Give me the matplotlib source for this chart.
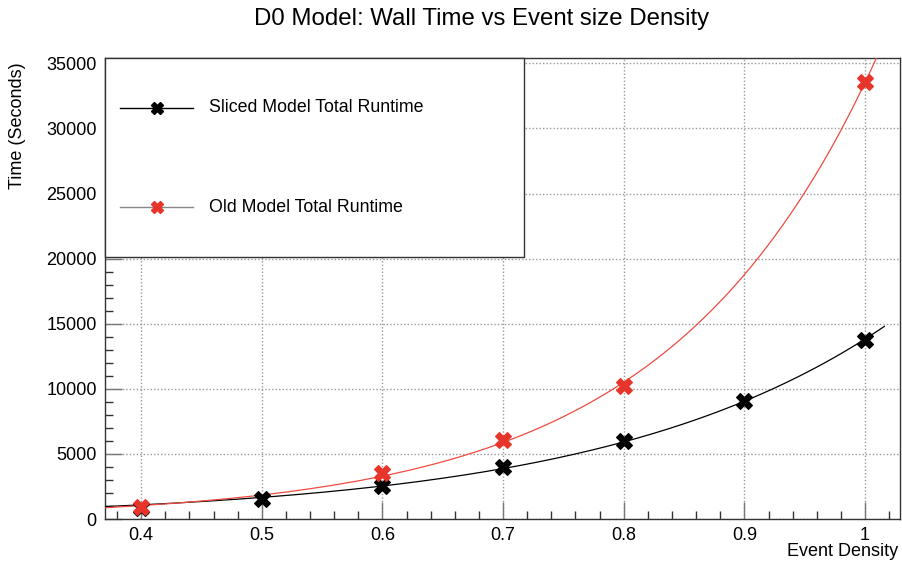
import numpy as np
import matplotlib
matplotlib.use("Agg")
import matplotlib.pyplot as plt
from matplotlib.lines import Line2D
from matplotlib.patches import Rectangle
from matplotlib.ticker import MultipleLocator

plt.rcParams['font.family'] = ['Liberation Sans', 'DejaVu Sans']

# Measured wall times (seconds) per event density
sliced_density = [0.4, 0.5, 0.6, 0.7, 0.8, 0.9, 1.0]
sliced_time = [830, 1530, 2550, 3980, 6000, 9100, 13760]

old_density = [0.4, 0.6, 0.7, 0.8, 1.0]
old_time = [890, 3540, 6080, 10230, 33560]

x_ticks = [0.4, 0.5, 0.6, 0.7, 0.8, 0.9, 1.0]
x_tick_labels = ["0.4", "0.5", "0.6", "0.7", "0.8", "0.9", "1"]
y_ticks = [0, 5000, 10000, 15000, 20000, 25000, 30000, 35000]

legend_labels = ["Sliced Model Total Runtime", "Old Model Total Runtime"]

BLACK = "#000000"
RED = "#e8352b"
RED_LINE = "#ee4b42"

W, H = 902, 565


def fit_expo(x, y, iters=50):
    """Least-squares fit of y = exp(a + b*x) (Gauss-Newton)."""
    x = np.asarray(x, float)
    y = np.asarray(y, float)
    b, a = np.polyfit(x, np.log(y), 1)
    for _ in range(iters):
        f = np.exp(a + b * x)
        J = np.column_stack([f, f * x])
        r = y - f
        step, *_ = np.linalg.lstsq(J, r, rcond=None)
        a += step[0]
        b += step[1]
        if np.all(np.abs(step) < 1e-12):
            break
    return a, b


def px(x, y):
    """Pixel position (from top-left) to figure fraction."""
    return x / W, 1 - y / H


fig = plt.figure(figsize=(W / 100, H / 100), dpi=100)
ax = fig.add_axes([0.1164, 0.0814, 0.8814, 0.8168])

ax.set_xlim(0.37, 1.029)
ax.set_ylim(0, 35450)

# Exponential fit curves
a_s, b_s = fit_expo(sliced_density, sliced_time)
xs = np.linspace(0.37, 1.016, 300)
ax.plot(xs, np.exp(a_s + b_s * xs), color=BLACK, lw=0.9, zorder=3)

a_o, b_o = fit_expo(old_density, old_time)
xo = np.linspace(0.37, 1.029, 300)
ax.plot(xo, np.exp(a_o + b_o * xo), color=RED_LINE, lw=0.9, zorder=3)

ax.plot(sliced_density, sliced_time, ls="none", marker="X", ms=11,
        mfc=BLACK, mec=BLACK, mew=0.8, zorder=4)
ax.plot(old_density, old_time, ls="none", marker="X", ms=11,
        mfc=RED, mec=RED, mew=0.8, zorder=5)

# Axes styling
ax.set_xticks(x_ticks)
ax.set_xticklabels(x_tick_labels)
ax.set_yticks(y_ticks)
ax.xaxis.set_minor_locator(MultipleLocator(0.02))
ax.yaxis.set_minor_locator(MultipleLocator(1000))
ax.tick_params(axis="both", which="major", direction="in", length=12,
               width=1, color="#777777", labelsize=13, pad=6)
ax.tick_params(axis="both", which="minor", direction="in", length=6,
               width=1, color="#333333")
ax.tick_params(top=False, right=False, which="both")
ax.grid(True, which="major", ls=(0, (1, 1.5)), color="#999999", lw=1)
ax.set_axisbelow(True)
for sp in ax.spines.values():
    sp.set_color("#333333")
    sp.set_linewidth(1)

fig.text(*px(898, 551), "Event Density", ha="right", va="center", fontsize=13)
fig.text(*px(18, 62), "Time (Seconds)", ha="center", va="top",
         rotation=90, fontsize=13)
fig.text(*px(482, 19), "D0 Model: Wall Time vs Event size Density",
         ha="center", va="center", fontsize=17.3)

# Legend box drawn in figure coordinates
x0, y0 = px(105, 257)
x1, y1 = px(524, 57.5)
fig.add_artist(Rectangle((x0, y0), x1 - x0, y1 - y0, transform=fig.transFigure,
                         facecolor="white", edgecolor="#333333", lw=1,
                         zorder=10))
entries = [
    (108, BLACK, BLACK),
    (207, "#888888", RED),
]
for (ypix, line_col, mark_col), label in zip(entries, legend_labels):
    (lx0, ly), (lx1, _) = px(120, ypix), px(193, ypix)
    fig.add_artist(Line2D([lx0, lx1], [ly, ly], transform=fig.transFigure,
                          color=line_col, lw=1, zorder=11))
    mx, _ = px(157, ypix)
    fig.add_artist(Line2D([mx], [ly], transform=fig.transFigure, ls="none",
                          marker="X", ms=9, mfc=mark_col, mec=mark_col,
                          zorder=12))
    tx, _ = px(209, ypix)
    fig.text(tx, ly, label, ha="left", va="center", fontsize=12.75, zorder=12)

fig.savefig("out.png", dpi=100, facecolor="white")
